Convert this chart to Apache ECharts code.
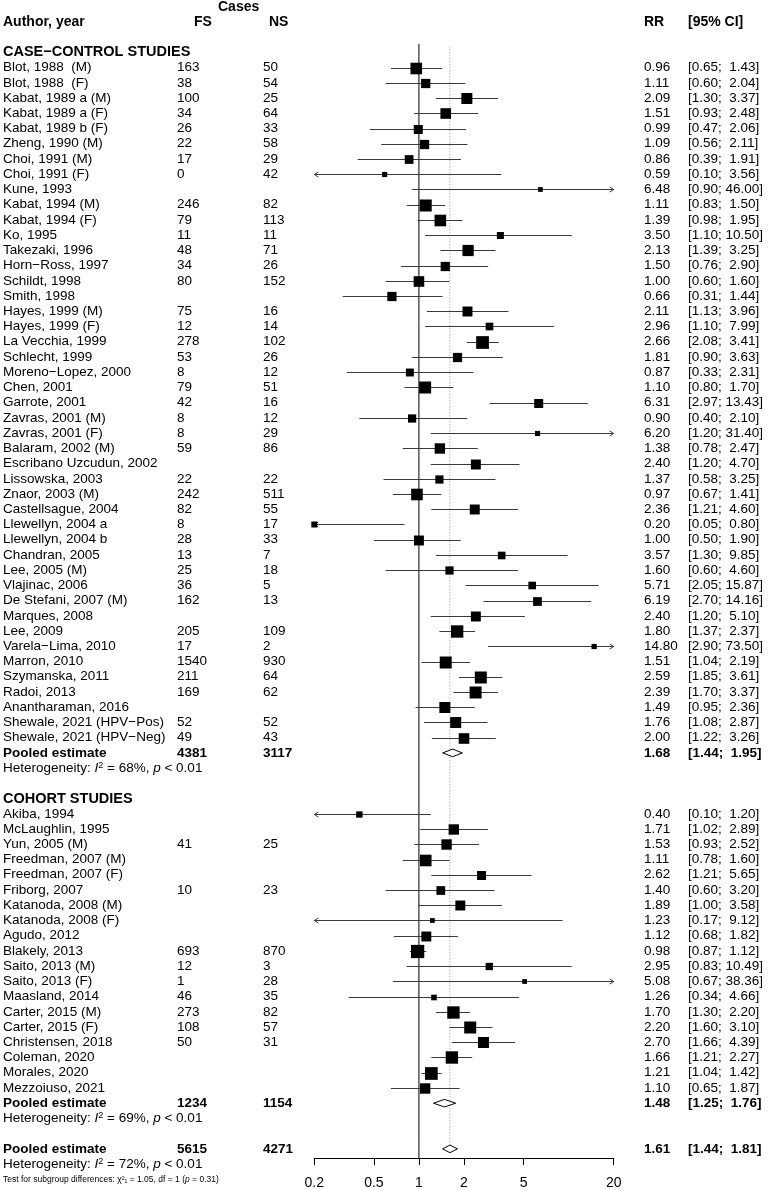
<!DOCTYPE html>
<html>
<head>
<meta charset="utf-8">
<title>Forest plot</title>
<script src="https://cdn.jsdelivr.net/npm/echarts@6/dist/echarts.min.js"></script>
<style>
html, body { margin: 0; padding: 0; background: #fff; }
#main { width: 770px; height: 1190px; }
</style>
</head>
<body>
<div id="main"></div>
<script>
// case-control studies
var ccStudy = ['Blot, 1988  (M)', 'Blot, 1988  (F)', 'Kabat, 1989 a (M)', 'Kabat, 1989 a (F)', 'Kabat, 1989 b (F)',
    'Zheng, 1990 (M)', 'Choi, 1991 (M)', 'Choi, 1991 (F)', 'Kune, 1993', 'Kabat, 1994 (M)', 'Kabat, 1994 (F)',
    'Ko, 1995', 'Takezaki, 1996', 'Horn\u2212Ross, 1997', 'Schildt, 1998', 'Smith, 1998', 'Hayes, 1999 (M)',
    'Hayes, 1999 (F)', 'La Vecchia, 1999', 'Schlecht, 1999', 'Moreno\u2212Lopez, 2000', 'Chen, 2001', 'Garrote, 2001',
    'Zavras, 2001 (M)', 'Zavras, 2001 (F)', 'Balaram, 2002 (M)', 'Escribano Uzcudun, 2002', 'Lissowska, 2003',
    'Znaor, 2003 (M)', 'Castellsague, 2004', 'Llewellyn, 2004 a', 'Llewellyn, 2004 b', 'Chandran, 2005',
    'Lee, 2005 (M)', 'Vlajinac, 2006', 'De Stefani, 2007 (M)', 'Marques, 2008', 'Lee, 2009', 'Varela\u2212Lima, 2010',
    'Marron, 2010', 'Szymanska, 2011', 'Radoi, 2013', 'Anantharaman, 2016', 'Shewale, 2021 (HPV\u2212Pos)',
    'Shewale, 2021 (HPV\u2212Neg)'];
var ccFS = [163, 38, 100, 34, 26, 22, 17, 0, null, 246, 79, 11, 48, 34, 80, null, 75, 12, 278, 53, 8, 79, 42, 8, 8,
    59, null, 22, 242, 82, 8, 28, 13, 25, 36, 162, null, 205, 17, 1540, 211, 169, null, 52, 49];
var ccNS = [50, 54, 25, 64, 33, 58, 29, 42, null, 82, 113, 11, 71, 26, 152, null, 16, 14, 102, 26, 12, 51, 16, 12, 29,
    86, null, 22, 511, 55, 17, 33, 7, 18, 5, 13, null, 109, 2, 930, 64, 62, null, 52, 43];
var ccRR = [0.96, 1.11, 2.09, 1.51, 0.99, 1.09, 0.86, 0.59, 6.48, 1.11, 1.39, 3.50, 2.13, 1.50, 1.00, 0.66, 2.11, 2.96,
    2.66, 1.81, 0.87, 1.10, 6.31, 0.90, 6.20, 1.38, 2.40, 1.37, 0.97, 2.36, 0.20, 1.00, 3.57, 1.60, 5.71, 6.19, 2.40,
    1.80, 14.80, 1.51, 2.59, 2.39, 1.49, 1.76, 2.00];
var ccLower = [0.65, 0.60, 1.30, 0.93, 0.47, 0.56, 0.39, 0.10, 0.90, 0.83, 0.98, 1.10, 1.39, 0.76, 0.60, 0.31, 1.13,
    1.10, 2.08, 0.90, 0.33, 0.80, 2.97, 0.40, 1.20, 0.78, 1.20, 0.58, 0.67, 1.21, 0.05, 0.50, 1.30, 0.60, 2.05, 2.70,
    1.20, 1.37, 2.90, 1.04, 1.85, 1.70, 0.95, 1.08, 1.22];
var ccUpper = [1.43, 2.04, 3.37, 2.48, 2.06, 2.11, 1.91, 3.56, 46.00, 1.50, 1.95, 10.50, 3.25, 2.90, 1.60, 1.44, 3.96,
    7.99, 3.41, 3.63, 2.31, 1.70, 13.43, 2.10, 31.40, 2.47, 4.70, 3.25, 1.41, 4.60, 0.80, 1.90, 9.85, 4.60, 15.87,
    14.16, 5.10, 2.37, 73.50, 2.19, 3.61, 3.37, 2.36, 2.87, 3.26];
var ccWeight = [3.0, 1.9, 2.7, 2.5, 1.8, 1.9, 1.7, 0.6, 0.5, 3.2, 3.0, 1.1, 2.8, 1.9, 2.5, 1.9, 2.2, 1.3, 3.6, 1.9,
    1.4, 3.2, 1.8, 1.5, 0.6, 2.4, 2.2, 1.5, 3.0, 2.2, 0.8, 2.2, 1.3, 1.5, 1.3, 1.7, 2.2, 3.4, 0.6, 3.2, 3.2, 3.2, 2.7,
    2.7, 2.5];
var ccPooled = [1.68, 1.44, 1.95];
var ccI2 = 68;

// cohort studies
var coStudy = ['Akiba, 1994', 'McLaughlin, 1995', 'Yun, 2005 (M)', 'Freedman, 2007 (M)', 'Freedman, 2007 (F)',
    'Friborg, 2007', 'Katanoda, 2008 (M)', 'Katanoda, 2008 (F)', 'Agudo, 2012', 'Blakely, 2013', 'Saito, 2013 (M)',
    'Saito, 2013 (F)', 'Maasland, 2014', 'Carter, 2015 (M)', 'Carter, 2015 (F)', 'Christensen, 2018', 'Coleman, 2020',
    'Morales, 2020', 'Mezzoiuso, 2021'];
var coFS = [null, null, 41, null, null, 10, null, null, null, 693, 12, 1, 46, 273, 108, 50, null, null, null];
var coNS = [null, null, 25, null, null, 23, null, null, null, 870, 3, 28, 35, 82, 57, 31, null, null, null];
var coRR = [0.40, 1.71, 1.53, 1.11, 2.62, 1.40, 1.89, 1.23, 1.12, 0.98, 2.95, 5.08, 1.26, 1.70, 2.20, 2.70, 1.66,
    1.21, 1.10];
var coLower = [0.10, 1.02, 0.93, 0.78, 1.21, 0.60, 1.00, 0.17, 0.68, 0.87, 0.83, 0.67, 0.34, 1.30, 1.60, 1.66, 1.21,
    1.04, 0.65];
var coUpper = [1.20, 2.89, 2.52, 1.60, 5.65, 3.20, 3.58, 9.12, 1.82, 1.12, 10.49, 38.36, 4.66, 2.20, 3.10, 4.39, 2.27,
    1.42, 1.87];
var coWeight = [0.9, 2.4, 2.4, 3.0, 1.8, 1.7, 2.2, 0.5, 2.2, 3.9, 1.2, 0.5, 0.7, 3.4, 3.2, 2.7, 3.4, 3.6, 2.4];
var coPooled = [1.48, 1.25, 1.76];
var coI2 = 69;

// overall
var allPooled = [1.61, 1.44, 1.81];
var allI2 = 72;
var subgroupTest = { chi2: '1.05', df: '1', p: '0.31' };

var tickValues = [0.2, 0.5, 1, 2, 5, 20];
var tickLabels = ['0.2', '0.5', '1', '2', '5', '20'];
var xLimits = [0.2, 20];

// ---------- layout ----------
var FONT = "'Liberation Sans', Arial, Helvetica, sans-serif";
var col = { label: 3, fs: 177, ns: 263, rr: 644, ci: 688, fsHead: 194, nsHead: 269, cases: 218 };

var ccRow0 = 0;
var ccPoolRow = ccRow0 + ccStudy.length;
var ccHetRow = ccPoolRow + 1;
var coHeadRow = ccHetRow + 2;
var coRow0 = coHeadRow + 1;
var coPoolRow = coRow0 + coStudy.length;
var coHetRow = coPoolRow + 1;
var allRow = coHetRow + 2;
var allHetRow = allRow + 1;
var testRow = allHetRow + 1;

var yMin = -1.55, yMax = allRow + 0.6;

function lg(v) { return Math.log10(v); }
function sum(a) { return a.reduce(function (s, v) { return s + (v || 0); }, 0); }
function pad(s, n) { while (s.length < n) s = ' ' + s; return s; }
function ciText(lo, hi) { return '[' + lo.toFixed(2) + '; ' + pad(hi.toFixed(2), 5) + ']'; }

// study points
var studyData = [];
ccStudy.forEach(function (s, i) {
    studyData.push([ccRow0 + i, ccRR[i], ccLower[i], ccUpper[i], ccWeight[i]]);
});
coStudy.forEach(function (s, i) {
    studyData.push([coRow0 + i, coRR[i], coLower[i], coUpper[i], coWeight[i]]);
});
var pooledData = [
    [ccPoolRow, ccPooled[0], ccPooled[1], ccPooled[2]],
    [coPoolRow, coPooled[0], coPooled[1], coPooled[2]],
    [allRow, allPooled[0], allPooled[1], allPooled[2]]
];

// text cells
var texts = [];
function addText(row, x, text, kind) { texts.push({ row: row, x: x, text: text, kind: kind }); }

addText(-4, col.cases, 'Cases', 'head');
addText(-3, col.label, 'Author, year', 'head');
addText(-3, col.fsHead, 'FS', 'head');
addText(-3, col.nsHead, 'NS', 'head');
addText(-3, col.rr, 'RR', 'head');
addText(-3, col.ci, '[95% CI]', 'head');

function addGroup(title, headRow, row0, names, fs, ns, rr, lo, hi, pooled, poolRow, hetRow, i2) {
    addText(headRow, col.label, title, 'group');
    names.forEach(function (n, i) {
        var r = row0 + i;
        addText(r, col.label, n, 'norm');
        if (fs[i] !== null) addText(r, col.fs, String(fs[i]), 'norm');
        if (ns[i] !== null) addText(r, col.ns, String(ns[i]), 'norm');
        addText(r, col.rr, rr[i].toFixed(2), 'norm');
        addText(r, col.ci, ciText(lo[i], hi[i]), 'norm');
    });
    addText(poolRow, col.label, 'Pooled estimate', 'bold');
    addText(poolRow, col.fs, String(sum(fs)), 'bold');
    addText(poolRow, col.ns, String(sum(ns)), 'bold');
    addText(poolRow, col.rr, pooled[0].toFixed(2), 'bold');
    addText(poolRow, col.ci, ciText(pooled[1], pooled[2]), 'bold');
    addText(hetRow, col.label, '{n|Heterogeneity: }{i|I}{s|2}{n| = ' + i2 + '%, }{i|p}{n| < 0.01}', 'het');
}
addGroup('CASE\u2212CONTROL STUDIES', -1, ccRow0, ccStudy, ccFS, ccNS, ccRR, ccLower, ccUpper, ccPooled, ccPoolRow, ccHetRow, ccI2);
addGroup('COHORT STUDIES', coHeadRow, coRow0, coStudy, coFS, coNS, coRR, coLower, coUpper, coPooled, coPoolRow, coHetRow, coI2);

addText(allRow, col.label, 'Pooled estimate', 'bold');
addText(allRow, col.fs, String(sum(ccFS) + sum(coFS)), 'bold');
addText(allRow, col.ns, String(sum(ccNS) + sum(coNS)), 'bold');
addText(allRow, col.rr, allPooled[0].toFixed(2), 'bold');
addText(allRow, col.ci, ciText(allPooled[1], allPooled[2]), 'bold');
addText(allHetRow, col.label, '{n|Heterogeneity: }{i|I}{s|2}{n| = ' + allI2 + '%, }{i|p}{n| < 0.01}', 'het');
addText(testRow, col.label, '{t|Test for subgroup differences: \u03c7\u00b2\u2081 = ' + subgroupTest.chi2 + ', df = ' +
    subgroupTest.df + ' (}{ti|p}{t| = ' + subgroupTest.p + ')}', 'test');

var kinds = {
    head: { fontSize: 14, fontWeight: 'bold' },
    group: { fontSize: 14.5, fontWeight: 'bold' },
    norm: { fontSize: 13.5, fontWeight: 'normal' },
    bold: { fontSize: 13.5, fontWeight: 'bold' },
    het: { fontSize: 13.5, fontWeight: 'normal' },
    test: { fontSize: 8.5, fontWeight: 'normal' }
};
var richStyles = {
    n: { fontSize: 13.5, fontFamily: FONT, fill: '#000' },
    i: { fontSize: 13.5, fontFamily: FONT, fontStyle: 'italic', fill: '#000' },
    s: { fontSize: 9, fontFamily: FONT, fill: '#000', verticalAlign: 'top' },
    t: { fontSize: 8.5, fontFamily: FONT, fill: '#000' },
    ti: { fontSize: 8.5, fontFamily: FONT, fontStyle: 'italic', fill: '#000' }
};

function renderText(params, api) {
    var t = texts[params.dataIndex];
    var y = api.coord([0, api.value(0)])[1];
    var k = kinds[t.kind];
    return {
        type: 'text',
        x: t.x,
        y: y,
        style: {
            text: t.text,
            fill: '#000',
            fontSize: k.fontSize,
            fontWeight: k.fontWeight,
            fontFamily: FONT,
            align: 'left',
            verticalAlign: 'middle',
            rich: richStyles
        }
    };
}

function renderStudy(params, api) {
    var row = api.value(0);
    var cs = params.coordSys;
    var xMin = cs.x, xMax = cs.x + cs.width;
    var p = api.coord([lg(api.value(1)), row]);
    var y = Math.round(p[1]) + 0.5;
    var xl = api.coord([lg(api.value(2)), row])[0];
    var xh = api.coord([lg(api.value(3)), row])[0];
    var side = Math.sqrt(api.value(4) * 45);
    var stroke = { stroke: '#3a3a3a', lineWidth: 1, fill: null };
    var kids = [{
        type: 'line',
        shape: { x1: Math.max(xl, xMin), y1: y, x2: Math.min(xh, xMax), y2: y },
        style: stroke
    }];
    if (xl < xMin) {
        kids.push({ type: 'polyline', shape: { points: [[xMin + 4, y - 2.5], [xMin, y], [xMin + 4, y + 2.5]] }, style: stroke });
    }
    if (xh > xMax) {
        kids.push({ type: 'polyline', shape: { points: [[xMax - 4, y - 2.5], [xMax, y], [xMax - 4, y + 2.5]] }, style: stroke });
    }
    kids.push({
        type: 'rect',
        shape: { x: p[0] - side / 2, y: y - side / 2, width: side, height: side },
        style: { fill: '#000' }
    });
    return { type: 'group', children: kids };
}

function renderPooled(params, api) {
    var row = api.value(0);
    var c = api.coord([lg(api.value(1)), row]);
    var xl = api.coord([lg(api.value(2)), row])[0];
    var xh = api.coord([lg(api.value(3)), row])[0];
    var h = 3.8;
    return {
        type: 'polygon',
        shape: { points: [[xl, c[1]], [c[0], c[1] - h], [xh, c[1]], [c[0], c[1] + h]] },
        style: { fill: '#fff', stroke: '#000', lineWidth: 1 }
    };
}

var myChart = echarts.init(document.getElementById('main'), null, { renderer: 'canvas' });
var option = {
    backgroundColor: '#fff',
    animation: false,
    grid: { left: 314.3, right: 156.3, top: 44, bottom: 32 },
    xAxis: {
        type: 'value',
        min: lg(xLimits[0]),
        max: lg(xLimits[1]),
        splitLine: { show: false },
        axisLine: { show: true, onZero: false, lineStyle: { color: '#000', width: 1 } },
        axisTick: {
            show: true,
            length: 7,
            lineStyle: { color: '#000' },
            customValues: tickValues.map(lg)
        },
        axisLabel: {
            color: '#000',
            fontSize: 14,
            fontFamily: FONT,
            margin: 18,
            customValues: tickValues.map(lg),
            formatter: function (v) {
                for (var i = 0; i < tickValues.length; i++) {
                    if (Math.abs(lg(tickValues[i]) - v) < 1e-6) return tickLabels[i];
                }
                return '';
            }
        }
    },
    yAxis: {
        type: 'value',
        inverse: true,
        min: yMin,
        max: yMax,
        show: false
    },
    series: [
        {
            // line of no effect
            type: 'line',
            data: [[lg(1), yMin], [lg(1), yMax]],
            symbol: 'none',
            silent: true,
            lineStyle: { color: '#000', width: 1 },
            z: 1
        },
        {
            // overall estimate
            type: 'line',
            data: [[lg(allPooled[0]), -1.4], [lg(allPooled[0]), allRow - 0.27]],
            symbol: 'none',
            silent: true,
            lineStyle: { color: '#999', width: 1, type: [1, 2] },
            z: 1
        },
        {
            type: 'custom',
            renderItem: renderStudy,
            data: studyData,
            encode: { x: 1, y: 0 },
            silent: true,
            z: 3
        },
        {
            type: 'custom',
            renderItem: renderPooled,
            data: pooledData,
            encode: { x: 1, y: 0 },
            silent: true,
            z: 3
        },
        {
            type: 'custom',
            renderItem: renderText,
            data: texts.map(function (t) { return [t.row]; }),
            encode: { y: 0 },
            clip: false,
            silent: true,
            z: 4
        }
    ]
};

myChart.setOption(option);
window.onresize = myChart.resize;
</script>
</body>
</html>
